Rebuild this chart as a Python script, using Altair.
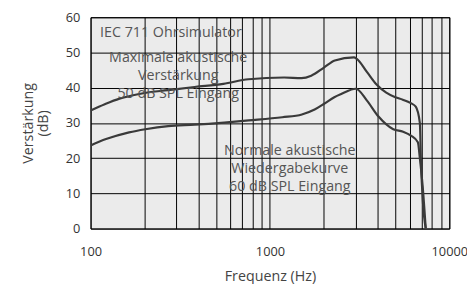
import altair as alt
import pandas as pd

# Maximum acoustic gain curve (50 dB SPL input)
max_freq = [100, 120, 145, 170, 200, 270, 380, 550, 760, 1200, 1500, 1700, 2000, 2300,
            2940, 3050, 3470, 3930, 4450, 5000, 5500, 6100, 6500, 6850, 6950, 7110, 7390]
max_db = [33.5, 35.3, 36.9, 37.8, 38.5, 39.3, 40.2, 41.1, 42.4, 42.9, 42.7, 43.4, 45.7, 47.7,
          48.6, 48.2, 44.5, 40.9, 38.6, 37.3, 36.6, 35.6, 34.6, 30.0, 19.0, 8.2, 0.0]

# Normal acoustic response curve (60 dB SPL input)
norm_freq = [100, 122, 164, 202, 271, 381, 556, 762, 1171, 1507, 1775, 2014, 2285, 2496,
             3015, 3466, 4030, 4870, 5525, 6110, 6680, 6850, 7110, 7390]
norm_db = [23.6, 25.4, 27.3, 28.2, 29.1, 29.5, 30.1, 30.7, 31.6, 32.4, 33.8, 35.5, 37.3, 38.2,
           39.7, 36.4, 31.8, 28.2, 27.5, 26.4, 24.5, 20.0, 11.8, 0.0]

x_grid = [100, 200, 300, 400, 500, 600, 700, 800, 900,
          1000, 2000, 3000, 4000, 5000, 6000, 7000, 8000, 9000, 10000]
y_ticks = [0, 10, 20, 30, 40, 50, 60]

labels = ["IEC 711 Ohrsimulator",
          "Maximale akustische\nVerstärkung\n50 dB SPL Eingang",
          "Normale akustische\nWiedergabekurve\n60 dB SPL Eingang"]
label_freq = [113, 308, 1290]
label_db = [55.5, 48.5, 22.1]

FONT = "Open Sans"

df = pd.concat([
    pd.DataFrame({"f": max_freq, "db": max_db, "s": "max"}),
    pd.DataFrame({"f": norm_freq, "db": norm_db, "s": "norm"}),
])

xscale = alt.Scale(type="log", domain=[100, 10000], nice=False)
yscale = alt.Scale(domain=[0, 60], nice=False)

xaxis = alt.Axis(values=x_grid, grid=True, gridColor="#000", gridOpacity=1, gridWidth=1,
                 labelExpr="(datum.value == 100 || datum.value == 1000 || datum.value == 10000) ? format(datum.value, 'd') : ''",
                 ticks=False, domain=False, labelPadding=17, labelFont=FONT, labelFontSize=13,
                 labelColor="#333", labelOverlap=False, labelFlush=False,
                 title="Frequenz (Hz)", titleFont=FONT, titleFontSize=14.5,
                 titleFontWeight="normal", titleColor="#444", titlePadding=12)
yaxis = alt.Axis(values=y_ticks, grid=True, gridColor="#000", gridOpacity=1, gridWidth=1,
                 ticks=False, domain=False, labelPadding=11, labelFont=FONT, labelFontSize=13,
                 labelColor="#333", labelOverlap=False, labelFlush=False,
                 title=["Verstärkung", "(dB)"], titleFont=FONT,
                 titleFontSize=14.5, titleFontWeight="normal", titleColor="#444",
                 titlePadding=15, titleLineHeight=15)

X = alt.X("f:Q", scale=xscale, axis=xaxis)
Y = alt.Y("db:Q", scale=yscale, axis=yaxis)

lines = alt.Chart(df).mark_line(interpolate="monotone", color="#3a3a3a", strokeWidth=2.2,
                                clip=True).encode(x=X, y=Y, detail="s:N")

ann_df = pd.DataFrame({"t": labels, "f": label_freq, "db": label_db})

ann_left = alt.Chart(ann_df.iloc[[0]]).mark_text(
    align="left", baseline="middle", font=FONT, fontSize=14.5, color="#555"
).encode(x=X, y=Y, text="t:N")

ann_center = alt.Chart(ann_df.iloc[[1, 2]]).mark_text(
    align="center", baseline="middle", font=FONT, fontSize=14.5, color="#555",
    lineBreak="\n", lineHeight=18.5
).encode(x=X, y=Y, text="t:N")

chart = alt.layer(lines, ann_left, ann_center).properties(
    width=365, height=215,
    autosize=alt.AutoSizeParams(type="none"),
    padding={"left": 84, "top": 7, "right": 18, "bottom": 54},
    background="white",
).configure_view(fill="#ebebeb", stroke="#000", strokeWidth=1)

chart.save("out.html", embed_options={"renderer": "svg", "actions": False})
